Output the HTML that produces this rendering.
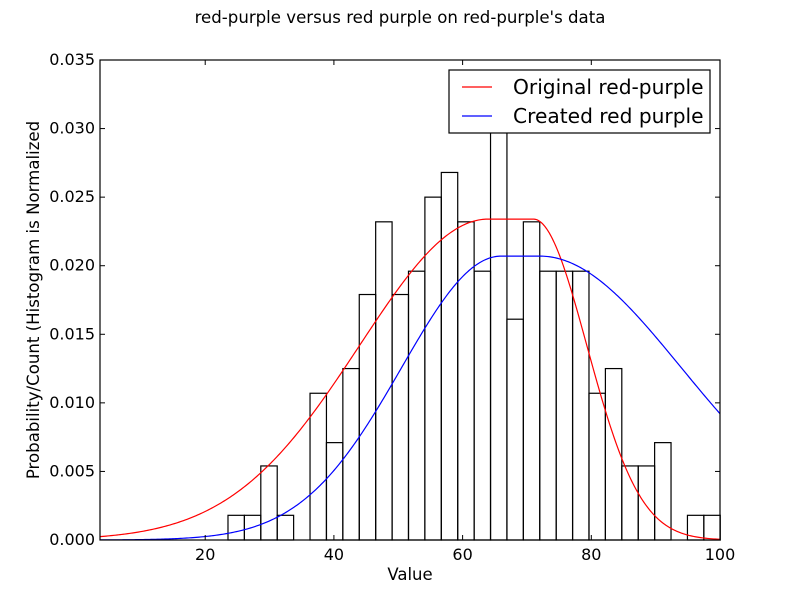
<!DOCTYPE html>
<html><head><meta charset="utf-8"><style>
body{margin:0;background:#fff}
svg text{font-family:"DejaVu Sans","Liberation Sans",sans-serif;fill:#000}
</style></head><body>
<svg id="c" width="800" height="600" xmlns="http://www.w3.org/2000/svg">
<rect width="800" height="600" fill="#fff"/>
<text x="400" y="23" font-size="16.6" text-anchor="middle">red-purple versus red purple on red-purple's data</text>
<text x="410" y="580" font-size="16.5" text-anchor="middle">Value</text>
<text transform="translate(39,300) rotate(-90)" font-size="16.6" text-anchor="middle">Probability/Count (Histogram is Normalized</text>
<g id="plot"></g>
</svg>
<script>
const binStart = 23.54;
const binWidth = 2.55;
const histValues = [0.0018,0.0018,0.0054,0.0018,0,0.0107,0.0071,0.0125,0.0179,0.0232,0.0179,0.0196,0.0250,0.0268,0.0232,0.0196,0.0304,0.0161,0.0232,0.0196,0.0196,0.0196,0.0107,0.0125,0.0054,0.0054,0.0071,0,0.0018,0.0018];
// curve params: [peak, plateauStart, plateauEnd, sigmaLeft, sigmaRight]
const redCurve = [0.0234, 64, 71, 20, 8.3];
const blueCurve = [0.0207, 66, 72, 15.5, 22];
const xTicks = [20,40,60,80,100];
const yTicks = [0,0.005,0.010,0.015,0.020,0.025,0.030,0.035];
const yTickLabels = ["0.000","0.005","0.010","0.015","0.020","0.025","0.030","0.035"];

const X0=100,X1=720,Y0=540,Y1=60,xmin=3.65,xmax=100,ymin=0,ymax=0.035;
const sx=v=>X0+(v-xmin)/(xmax-xmin)*(X1-X0);
const sy=v=>Y0-(v-ymin)/(ymax-ymin)*(Y0-Y1);
const NS="http://www.w3.org/2000/svg";
const g=document.getElementById('plot');
function mk(t,a){const e=document.createElementNS(NS,t);for(const k in a)e.setAttribute(k,a[k]);g.appendChild(e);return e;}
histValues.forEach((v,i)=>{if(v<=0)return;
 const a=sx(binStart+i*binWidth),b=sx(binStart+(i+1)*binWidth);
 const r=mk('rect',{x:a,y:sy(v),width:b-a,height:Y0-sy(v),fill:'none',stroke:'#000','stroke-width':1.2});
 
 });
function f(p,x){const [pk,a,b,sl,sr]=p;if(x<a)return pk*Math.exp(-((x-a)**2)/(2*sl*sl));if(x>b)return pk*Math.exp(-((x-b)**2)/(2*sr*sr));return pk;}
function curve(p,col,name){let d='';for(let i=0;i<=400;i++){const x=xmin+(xmax-xmin)*i/400;d+=(i?'L':'M')+sx(x).toFixed(2)+','+sy(f(p,x)).toFixed(2);}
 const e=mk('path',{d:d,fill:'none',stroke:col,'stroke-width':1.2});
 
 }
curve(redCurve,'#f00','original-red-purple-line');
curve(blueCurve,'#00f','created-red-purple-line');
const fr=mk('rect',{x:X0,y:Y1,width:X1-X0,height:Y0-Y1,fill:'none',stroke:'#000','stroke-width':1.2});


xTicks.forEach(v=>{const x=sx(v);
 mk('line',{x1:x,x2:x,y1:Y0,y2:Y0-5,stroke:'#000'});mk('line',{x1:x,x2:x,y1:Y1,y2:Y1+5,stroke:'#000'});
 const t=mk('text',{x:x,y:Y0+20,'font-size':16,'text-anchor':'middle'});t.textContent=v;
 
 });
yTicks.forEach((v,i)=>{const y=sy(v);
 mk('line',{x1:X0,x2:X0+5,y1:y,y2:y,stroke:'#000'});mk('line',{x1:X1,x2:X1-5,y1:y,y2:y,stroke:'#000'});
 const t=mk('text',{x:X0-5,y:y+5,'font-size':16,'text-anchor':'end'});t.textContent=yTickLabels[i];
 
 });
const lg=mk('rect',{x:449,y:70,width:261,height:63,fill:'#fff',stroke:'#000','stroke-width':1.2});


[['Original red-purple','#f00',87],['Created red purple','#00f',116]].forEach(([s,c,y])=>{
 mk('line',{x1:462,x2:492,y1:y,y2:y,stroke:c,'stroke-width':1.2});
 const t=mk('text',{x:513,y:y+7,'font-size':20.2});t.textContent=s;
 
 });
</script>
</body></html>
